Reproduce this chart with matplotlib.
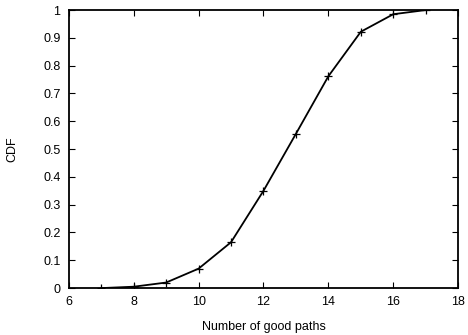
import numpy as np
import matplotlib
matplotlib.use("Agg")
import matplotlib.pyplot as plt

# data
good_paths = [7, 8, 9, 10, 11, 12, 13, 14, 15, 16, 17]
cdf = [0.0, 0.005, 0.02, 0.07, 0.165, 0.35, 0.555, 0.762, 0.922, 0.985, 1.0]

xticks = [6, 8, 10, 12, 14, 16, 18]
yticks = [0, 0.1, 0.2, 0.3, 0.4, 0.5, 0.6, 0.7, 0.8, 0.9, 1]
ytick_labels = ["0", "0.1", "0.2", "0.3", "0.4", "0.5", "0.6", "0.7", "0.8", "0.9", "1"]

plt.rcParams['font.family'] = ['Liberation Sans', 'DejaVu Sans']
plt.rcParams['font.size'] = 9

fig = plt.figure(figsize=(4.68, 3.35), dpi=100)
ax = fig.add_axes([0.147, 0.140, 0.832, 0.830])

ax.plot(good_paths, cdf, color='black', linewidth=1.3, marker='+',
        markersize=6, markeredgewidth=0.9)

ax.set_xlim(6, 18)
ax.set_ylim(0, 1)
ax.set_xticks(xticks)
ax.set_yticks(yticks)
ax.set_yticklabels(ytick_labels)
ax.tick_params(direction='in', top=True, right=True, length=4, width=0.8, pad=6)
for s in ax.spines.values():
    s.set_linewidth(1.3)

ax.set_xlabel("Number of good paths", labelpad=9)
ax.set_ylabel("CDF", labelpad=18)

fig.savefig("out.png", dpi=100)
